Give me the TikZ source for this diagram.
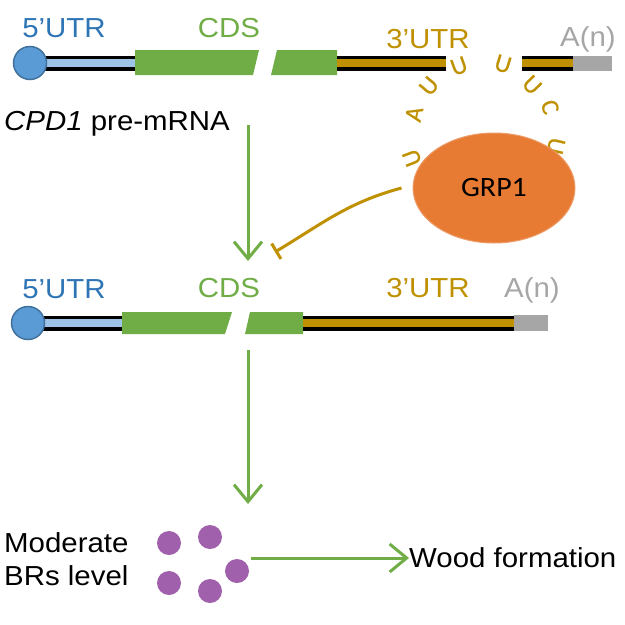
\documentclass[tikz,border=0pt]{standalone}
\usepackage{fontspec}
\setmainfont{Liberation Sans}
\newfontfamily\labfont[FakeStretch=1.07]{Liberation Sans}
\newfontfamily\calfont[FakeStretch=1.07]{Carlito}
\newfontfamily\ntfont[FakeBold=0.6]{Carlito}
\usetikzlibrary{shapes.geometric, arrows.meta}
\definecolor{capblue}{RGB}{91,155,213}
\definecolor{capedge}{RGB}{65,113,156}
\definecolor{utrblue}{RGB}{157,195,230}
\definecolor{txtblue}{RGB}{46,117,182}
\definecolor{cdsgreen}{RGB}{112,173,71}
\definecolor{utrgold}{RGB}{191,144,0}
\definecolor{tailgray}{RGB}{166,166,166}
\definecolor{grporange}{RGB}{231,123,52}
\definecolor{brpurple}{RGB}{160,96,172}
\tikzstyle{lab} = [font=\labfont\fontsize{27.5}{32}\selectfont, inner sep=0pt, anchor=base]
\tikzstyle{capnode} = [circle, minimum size=33pt, inner sep=0pt, fill=capblue, draw=capedge, line width=1.5pt]
\tikzstyle{utrfive} = [line width=15pt, draw=black, postaction={draw=utrblue, line width=8pt}]
\tikzstyle{utrthree} = [line width=15pt, draw=black, postaction={draw=utrgold, line width=8pt}]
\tikzstyle{cds} = [fill=cdsgreen]
\tikzstyle{tail} = [fill=tailgray]
\tikzstyle{nt} = [font=\ntfont\fontsize{25}{29}\selectfont, text=utrgold, inner sep=0pt]
\tikzstyle{protein} = [ellipse, minimum width=162pt, minimum height=110pt, fill=grporange, draw=grporange!75!white, line width=1pt, font=\calfont\fontsize{28}{32}\selectfont, inner sep=0pt]
\tikzstyle{brdot} = [circle, minimum size=24pt, inner sep=0pt, fill=brpurple]
\tikzstyle{arrow} = [line width=3pt, draw=cdsgreen, -{Straight Barb[length=17pt, width=28pt]}]
\tikzstyle{inhib} = [line width=3pt, draw=utrgold, -{Bar[width=18pt]}]
\begin{document}
\begin{tikzpicture}[x=1pt, y=-1pt]
\useasboundingbox (0,0) rectangle (625,625);
% pre-mRNA
\draw [utrfive] (30,63) -- (136,63);
\node (capA) [capnode] at (30,63) {};
\fill [cds] (135,50) -- (259,50) -- (253,75) -- (135,75) -- cycle;
\fill [cds] (277,50) -- (337,50) -- (337,75) -- (271,75) -- cycle;
\draw [utrthree] (337,63) -- (446,63);
\draw [utrthree] (522,63) -- (574,63);
\fill [tail] (573,56) rectangle (612,71);
\node (fiveA) [lab, text=txtblue] at (64,37) {5’UTR};
\node (cdsA) [lab, text=cdsgreen] at (229,37) {CDS};
\node (threeA) [lab, text=utrgold] at (428,48) {3’UTR};
\node (tailA) [lab, text=tailgray] at (588,46) {A(n)};
\node (pre) [lab, anchor=base west] at (4,130) {{\itshape CPD1} pre-mRNA};
% loop
\node (ntA) [nt, rotate=111] at (412,158) {U};
\node (ntB) [nt, rotate=77] at (414,114) {A};
\node (ntC) [nt, rotate=50] at (429,86) {U};
\node (ntD) [nt, rotate=20] at (459,66) {U};
\node (ntE) [nt, rotate=-17] at (503,64) {U};
\node (ntF) [nt, rotate=-46] at (532,85) {U};
\node (ntG) [nt, rotate=-72] at (550,107) {C};
\node (ntH) [nt, rotate=-103] at (556,146) {U};
\node (grp) [protein] at (494,188) {GRP1};
% mature mRNA
\draw [utrfive] (28,323) -- (123,323);
\node (capB) [capnode] at (28,323) {};
\fill [cds] (122,312) -- (232,312) -- (225,334) -- (122,334) -- cycle;
\fill [cds] (250,312) -- (303,312) -- (303,334) -- (245,334) -- cycle;
\draw [utrthree] (303,323) -- (515,323);
\fill [tail] (514,315) rectangle (548,331);
\node (fiveB) [lab, text=txtblue] at (64,298) {5’UTR};
\node (cdsB) [lab, text=cdsgreen] at (229,297) {CDS};
\node (threeB) [lab, text=utrgold] at (428,297) {3’UTR};
\node (tailB) [lab, text=tailgray] at (532,297) {A(n)};
% BRs
\node (mod) [lab, anchor=base west] at (4,552) {Moderate};
\node (lvl) [lab, anchor=base west] at (4,585) {BRs level};
\node (brA) [brdot] at (169,543) {};
\node (brB) [brdot] at (210,537) {};
\node (brC) [brdot] at (169,583) {};
\node (brD) [brdot] at (210,591) {};
\node (brE) [brdot] at (237,571) {};
\node (wood) [lab, anchor=west] at (409,558) {Wood formation};
% connectors
\coordinate (splice) at (248,125);
\coordinate (spliced) at (248,261);
\coordinate (transl) at (248,350);
\coordinate (level) at (248,504);
\coordinate (brout) at (251,558);
\coordinate (tbar) at (275,252);
\draw [arrow] (splice) -- (spliced);
\draw [arrow] (transl) -- (level);
\draw [arrow] (brout) -- (wood.west);
\draw [inhib] ([xshift=-11pt]grp.west) to[out=195, in=31] (tbar);
\end{tikzpicture}
\end{document}
